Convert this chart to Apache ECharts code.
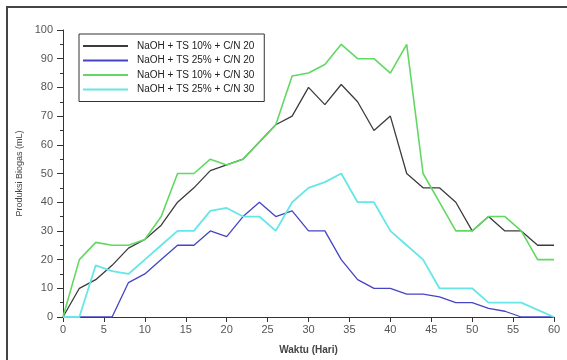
<!DOCTYPE html>
<html>
<head>
<meta charset="utf-8">
<style>
  html, body { margin: 0; padding: 0; background: #fff; }
  #chart { width: 567px; height: 360px; }
</style>
<script src="https://cdn.jsdelivr.net/npm/echarts@6/dist/echarts.min.js"></script>
</head>
<body>
<div id="chart"></div>
<script>
// Sampling days (every 2 days)
var days = [0,2,4,6,8,10,12,14,16,18,20,22,24,26,28,30,32,34,36,38,40,42,44,46,48,50,52,54,56,58,60];

var seriesNames = [
  'NaOH + TS 10% + C/N 20',
  'NaOH + TS 25% + C/N 20',
  'NaOH + TS 10% + C/N 30',
  'NaOH + TS 25% + C/N 30'
];

// Biogas production (mL)
var ts10cn20 = [0,10,13,18,24,27,32,40,45,51,53,55,61,67,70,80,74,81,75,65,70,50,45,45,40,30,35,30,30,25,25];
var ts25cn20 = [0,0,0,0,12,15,20,25,25,30,28,35,40,35,37,30,30,20,13,10,10,8,8,7,5,5,3,2,0,0,0];
var ts10cn30 = [0,20,26,25,25,27,35,50,50,55,53,55,61,67,84,85,88,95,90,90,85,95,50,40,30,30,35,35,30,20,20];
var ts25cn30 = [0,0,18,16,15,20,25,30,30,37,38,35,35,30,40,45,47,50,40,40,30,25,20,10,10,10,5,5,5,2.5,0];

var seriesColors = ['#3c3c3c', '#4444c4', '#62d862', '#66e6e6'];
var seriesWidths = [1.3, 1.3, 1.6, 1.8];

function pairs(vals) {
  return days.map(function (d, i) { return [d, vals[i]]; });
}

var allValues = [ts10cn20, ts25cn20, ts10cn30, ts25cn30];

var chart = echarts.init(document.getElementById('chart'), null, { renderer: 'canvas' });

var axisGray = '#333';
var labelGray = '#555';

chart.setOption({
  animation: false,
  backgroundColor: '#fff',
  grid: { left: 63, right: 13, top: 30, bottom: 39, containLabel: false },
  graphic: [{
    type: 'rect',
    shape: { x: 7, y: 7, width: 600, height: 400 },
    style: { fill: 'none', stroke: '#444', lineWidth: 2 },
    silent: true,
    z: 100
  }],
  legend: {
    show: true,
    left: 79,
    top: 34,
    orient: 'vertical',
    backgroundColor: '#fff',
    borderColor: '#333',
    borderWidth: 1,
    padding: [6, 10, 6, 4],
    itemWidth: 45,
    itemHeight: 2,
    itemGap: 2.5,
    icon: 'rect',
    data: seriesNames,
    textStyle: {
      fontFamily: 'Liberation Sans, Arial, sans-serif',
      fontSize: 10,
      color: '#222',
      lineHeight: 12,
      padding: [0, 0, 0, 4]
    },
    z: 50
  },
  xAxis: {
    type: 'value',
    min: 0,
    max: 60,
    interval: 5,
    name: 'Waktu (Hari)',
    nameLocation: 'middle',
    nameGap: 28,
    nameTextStyle: {
      fontFamily: 'Liberation Sans, Arial, sans-serif',
      fontSize: 10,
      fontWeight: 'bold',
      color: '#444'
    },
    axisLine: { show: true, onZero: false, lineStyle: { color: axisGray, width: 1 } },
    axisTick: { show: true, inside: false, length: 5, lineStyle: { color: axisGray } },
    axisLabel: {
      margin: 7,
      fontFamily: 'Liberation Sans, Arial, sans-serif',
      fontSize: 11,
      color: labelGray
    },
    splitLine: { show: false }
  },
  yAxis: {
    type: 'value',
    min: 0,
    max: 100,
    interval: 10,
    name: 'Produksi Biogas (mL)',
    nameLocation: 'middle',
    nameGap: 32,
    nameRotate: 90,
    nameTextStyle: {
      fontFamily: 'Liberation Sans, Arial, sans-serif',
      fontSize: 9,
      color: '#444'
    },
    axisLine: { show: true, onZero: false, lineStyle: { color: axisGray, width: 1 } },
    axisTick: { show: true, inside: false, length: 6, lineStyle: { color: axisGray } },
    minorTick: { show: true, splitNumber: 2, length: 3, lineStyle: { color: axisGray } },
    axisLabel: {
      margin: 10,
      fontFamily: 'Liberation Sans, Arial, sans-serif',
      fontSize: 11,
      color: labelGray
    },
    splitLine: { show: false }
  },
  series: seriesNames.map(function (name, i) {
    return {
      name: name,
      type: 'line',
      data: pairs(allValues[i]),
      symbol: 'none',
      showSymbol: false,
      color: seriesColors[i],
      lineStyle: { color: seriesColors[i], width: seriesWidths[i] },
      itemStyle: { color: seriesColors[i] },
      z: 2 + i
    };
  })
});
</script>
</body>
</html>
